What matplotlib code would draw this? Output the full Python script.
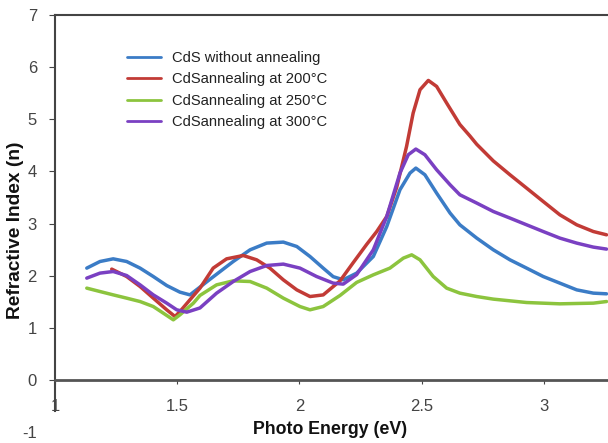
import matplotlib
matplotlib.use("Agg")
import matplotlib.pyplot as plt

plt.rcParams['font.family'] = ['Liberation Sans', 'DejaVu Sans']
plt.rcParams['axes.unicode_minus'] = False

# photon energy (eV) / refractive index
blue_x = [1.130, 1.184, 1.238, 1.293, 1.348, 1.402, 1.457, 1.511, 1.552, 1.593, 1.634,
          1.729, 1.798, 1.866, 1.934, 1.989, 2.043, 2.097, 2.138, 2.179, 2.234, 2.302,
          2.357, 2.411, 2.452, 2.476, 2.513, 2.561, 2.616, 2.656, 2.725, 2.793, 2.861,
          2.929, 2.997, 3.065, 3.134, 3.202, 3.256]
blue_y = [2.144, 2.271, 2.322, 2.271, 2.144, 1.983, 1.810, 1.683, 1.631, 1.780, 1.930,
          2.271, 2.495, 2.624, 2.643, 2.559, 2.367, 2.144, 1.980, 1.920, 2.048, 2.367,
          2.942, 3.647, 3.967, 4.063, 3.935, 3.583, 3.200, 2.975, 2.720, 2.495, 2.303,
          2.144, 1.983, 1.856, 1.727, 1.664, 1.651]

red_x = [1.232, 1.293, 1.348, 1.402, 1.457, 1.491, 1.511, 1.552, 1.593, 1.647, 1.702,
         1.770, 1.825, 1.879, 1.934, 1.989, 2.043, 2.097, 2.166, 2.220, 2.275, 2.316,
         2.357, 2.398, 2.438, 2.465, 2.493, 2.527, 2.561, 2.602, 2.656, 2.697, 2.725,
         2.793, 2.861, 2.929, 2.997, 3.065, 3.134, 3.202, 3.256]
red_y = [2.125, 1.983, 1.791, 1.568, 1.344, 1.215, 1.311, 1.536, 1.760, 2.144, 2.322,
         2.386, 2.303, 2.144, 1.919, 1.727, 1.599, 1.630, 1.900, 2.250, 2.600, 2.846,
         3.134, 3.700, 4.478, 5.119, 5.566, 5.745, 5.630, 5.311, 4.900, 4.680, 4.520,
         4.200, 3.935, 3.679, 3.422, 3.167, 2.975, 2.846, 2.783]

green_x = [1.130, 1.184, 1.238, 1.293, 1.348, 1.402, 1.443, 1.484, 1.511, 1.566, 1.593,
           1.661, 1.729, 1.798, 1.866, 1.934, 2.002, 2.043, 2.097, 2.166, 2.234, 2.302,
           2.370, 2.425, 2.459, 2.493, 2.547, 2.602, 2.656, 2.725, 2.793, 2.929, 3.065,
           3.202, 3.256]
green_y = [1.760, 1.695, 1.631, 1.568, 1.503, 1.407, 1.280, 1.152, 1.248, 1.472, 1.620,
           1.823, 1.900, 1.887, 1.760, 1.568, 1.407, 1.344, 1.407, 1.620, 1.870, 2.015,
           2.144, 2.336, 2.399, 2.303, 1.983, 1.760, 1.664, 1.599, 1.549, 1.484, 1.459,
           1.472, 1.503]

purple_x = [1.130, 1.184, 1.238, 1.293, 1.348, 1.402, 1.457, 1.498, 1.539, 1.593, 1.661,
            1.729, 1.798, 1.866, 1.934, 2.002, 2.070, 2.138, 2.179, 2.234, 2.302, 2.357,
            2.411, 2.445, 2.476, 2.513, 2.561, 2.616, 2.656, 2.725, 2.793, 2.861, 2.929,
            2.997, 3.065, 3.134, 3.202, 3.256]
purple_y = [1.952, 2.048, 2.079, 2.002, 1.823, 1.631, 1.472, 1.344, 1.299, 1.380, 1.664,
            1.887, 2.079, 2.194, 2.221, 2.144, 1.983, 1.856, 1.837, 2.020, 2.495, 3.134,
            3.967, 4.319, 4.428, 4.319, 4.031, 3.743, 3.551, 3.392, 3.230, 3.104, 2.975,
            2.846, 2.720, 2.624, 2.547, 2.509]

labels = ["CdS without annealing",
          "CdSannealing at 200°C",
          "CdSannealing at 250°C",
          "CdSannealing at 300°C"]
colors = ["#3b7cc6", "#c23b36", "#8cc43e", "#7a40c2"]

fig = plt.figure(figsize=(6.08, 4.43), dpi=100)
ax = fig.add_axes([55 / 608, 11 / 443, 553 / 608, 417 / 443])

series = [(blue_x, blue_y), (red_x, red_y), (green_x, green_y), (purple_x, purple_y)]
for (xs, ys), c, lab in zip(series, colors, labels):
    ax.plot(xs, ys, color=c, lw=2.5, label=lab, solid_capstyle='round',
            solid_joinstyle='round')

ax.set_xlim(1, 3.262)
ax.set_ylim(-1, 7)

ax.spines['right'].set_visible(False)
ax.spines['bottom'].set_position(('data', 0))
ax.spines['left'].set_bounds(-0.6, 7)
for s in ['top', 'left']:
    ax.spines[s].set_color('#444444')
    ax.spines[s].set_linewidth(1.5)
ax.spines['bottom'].set_color('#555555')
ax.spines['bottom'].set_linewidth(2)

ax.set_xticks([1, 1.5, 2, 2.5, 3])
ax.set_xticklabels(["1", "1.5", "2", "2.5", "3"])
ax.set_yticks(range(-1, 8))
ax.tick_params(axis='x', direction='out', length=3, pad=11, labelsize=12,
               colors='#444444')
ax.tick_params(axis='y', direction='out', length=4, pad=9, labelsize=12,
               colors='#444444')
ax.yaxis.get_major_ticks()[0].tick1line.set_visible(False)

fig.text(330 / 608, 1 - 430 / 443, "Photo Energy (eV)", ha='center', va='center',
         fontsize=12.8, fontweight='bold', color='#111111')
fig.text(16 / 608, 1 - 230 / 443, "Refractive Index (n)", ha='center', va='center',
         rotation=90, fontsize=13.8, fontweight='bold', color='#111111')

leg = ax.legend(loc='upper left', bbox_to_anchor=(72 / 553, 1 - 36 / 417),
                frameon=False, fontsize=10.6, handlelength=2.3, handletextpad=0.75,
                labelspacing=0.5, borderaxespad=0, borderpad=0)
for ln in leg.get_lines():
    ln.set_linewidth(2)
for t in leg.get_texts():
    t.set_color('#222222')

fig.savefig("out.png", dpi=100)
